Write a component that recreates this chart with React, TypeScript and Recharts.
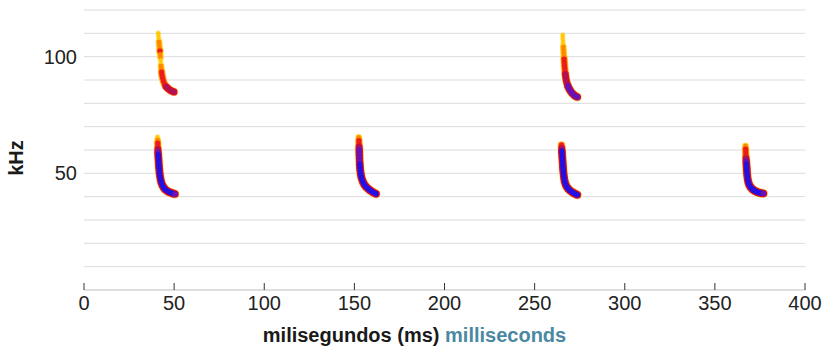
import { CartesianGrid, Label, Scatter, ScatterChart, XAxis, YAxis } from "recharts";

// one echolocation call = a trace of [ms, kHz, amplitude level 0..5]
type Pt = { t: number; f: number; amp: number };
const pts = (rows: number[][]): Pt[] => rows.map(([t, f, amp]) => ({ t, f, amp }));

const call1Harmonic = pts([
  [41.22, 110.1, 0], [41.33, 108.9, 0], [41.5, 107.6, 0], [41.61, 106.3, 1], [41.78, 105.0, 1],
  [41.94, 103.7, 1], [42.11, 102.4, 2], [42.27, 101.1, 1], [42.39, 99.9, 1], [42.5, 98.6, 0],
  [42.61, 97.3, 0], [42.72, 96.0, 1], [42.89, 94.7, 1], [43.05, 93.4, 2], [43.27, 92.1, 2],
  [43.61, 90.9, 2], [44.05, 89.6, 2], [44.66, 88.3, 2], [45.49, 87.2, 3], [46.6, 86.4, 3],
  [47.71, 85.7, 3], [48.82, 85.2, 3], [49.93, 84.9, 3],
]);

const call1 = pts([
  [40.78, 65.57, 0], [40.83, 64.29, 1], [40.89, 63.0, 2], [40.94, 61.71, 2], [41.0, 60.43, 3],
  [41.05, 59.14, 4], [41.17, 57.86, 5], [41.28, 56.57, 5], [41.39, 55.29, 5], [41.5, 54.0, 5],
  [41.61, 52.71, 5], [41.78, 51.43, 5], [41.94, 50.14, 5], [42.16, 48.86, 5], [42.44, 47.57, 5],
  [42.83, 46.29, 5], [43.38, 45.09, 5], [44.11, 44.06, 5], [44.94, 43.2, 5], [46.05, 42.51, 5],
  [47.16, 42.0, 5], [48.27, 41.66, 5], [49.38, 41.36, 5], [50.49, 41.14, 4],
]);

const call2 = pts([
  [152.46, 65.36, 1], [152.51, 64.07, 2], [152.57, 62.79, 2], [152.62, 61.5, 3], [152.68, 60.21, 4],
  [152.73, 58.93, 4], [152.79, 57.64, 4], [152.84, 56.36, 4], [152.9, 55.07, 4], [153.01, 53.79, 5],
  [153.12, 52.5, 5], [153.29, 51.21, 5], [153.51, 49.93, 5], [153.79, 48.64, 5], [154.23, 47.44, 5],
  [154.79, 46.29, 5], [155.51, 45.21, 5], [156.45, 44.27, 5], [157.56, 43.46, 5], [158.67, 42.77, 5],
  [159.78, 42.17, 5], [160.89, 41.66, 5], [162.0, 41.23, 5],
]);

const call3Harmonic = pts([
  [265.58, 109.29, 0], [265.63, 108.0, 0], [265.74, 106.71, 0], [265.8, 105.43, 0], [265.91, 104.14, 1],
  [266.02, 102.86, 1], [266.13, 101.57, 1], [266.24, 100.29, 1], [266.35, 99.0, 2], [266.46, 97.71, 2],
  [266.57, 96.43, 2], [266.69, 95.14, 2], [266.85, 93.86, 2], [267.02, 92.57, 3], [267.24, 91.29, 3],
  [267.52, 90.0, 3], [267.91, 88.71, 3], [268.41, 87.51, 4], [269.07, 86.4, 4], [269.85, 85.37, 4],
  [270.74, 84.43, 4], [271.73, 83.66, 4], [272.73, 83.06, 4], [273.68, 82.71, 4],
]);

const call3 = pts([
  [264.91, 62.14, 2], [265.02, 60.86, 3], [265.13, 59.57, 5], [265.24, 58.29, 5], [265.35, 57.0, 5],
  [265.46, 55.71, 5], [265.58, 54.43, 5], [265.69, 53.14, 5], [265.8, 51.86, 5], [265.96, 50.57, 5],
  [266.13, 49.29, 5], [266.35, 48.0, 5], [266.63, 46.71, 5], [267.07, 45.51, 5], [267.68, 44.44, 5],
  [268.52, 43.5, 5], [269.51, 42.73, 5], [270.57, 42.09, 5], [271.62, 41.57, 5], [272.68, 41.14, 5],
  [273.68, 40.8, 5],
]);

const call4 = pts([
  [366.99, 61.71, 1], [367.05, 60.43, 2], [367.1, 59.14, 2], [367.16, 57.86, 2], [367.27, 56.57, 3],
  [367.38, 55.29, 4], [367.49, 54.0, 5], [367.6, 52.71, 5], [367.71, 51.43, 5], [367.82, 50.14, 5],
  [367.99, 48.86, 5], [368.21, 47.57, 5], [368.54, 46.29, 5], [369.04, 45.13, 5], [369.76, 44.14, 5],
  [370.71, 43.33, 5], [371.76, 42.69, 5], [372.82, 42.21, 5], [373.93, 41.87, 5], [375.03, 41.61, 5],
  [376.14, 41.44, 5], [376.98, 41.36, 4],
]);

const xTicks = [0, 50, 100, 150, 200, 250, 300, 350, 400];
const yTicks = [0, 10, 20, 30, 40, 50, 60, 70, 80, 90, 100, 110, 120];
const yLabelled = [50, 100];

const allPoints = [...call1Harmonic, ...call1, ...call2, ...call3Harmonic, ...call3, ...call4];

const font = "'Liberation Sans', Arial, Helvetica, sans-serif";
const coreColor = ["#ffc800", "#ff8400", "#ec1c1c", "#b3124f", "#6a12b5", "#2410e0"];
const coreR = [1.9, 2.2, 2.5, 2.7, 2.8, 2.8];
const midColor = ["", "#ffc400", "#ff7a00", "#e8141e", "#d8101e", "#e0101e"];
const midR = [0, 3.0, 3.3, 3.6, 3.8, 3.9];
const outerR = [2.8, 3.6, 4.1, 4.4, 4.6, 4.7];

const outerDot = (p: any) => (
  <circle cx={p.cx} cy={p.cy} r={outerR[p.payload.amp]} fill="#ffcf3a" fillOpacity={0.5} />
);
const midDot = (p: any) =>
  p.payload.amp === 0 ? <g /> : <circle cx={p.cx} cy={p.cy} r={midR[p.payload.amp]} fill={midColor[p.payload.amp]} />;
const coreDot = (p: any) => (
  <circle cx={p.cx} cy={p.cy} r={coreR[p.payload.amp]} fill={coreColor[p.payload.amp]} />
);

const XTick = ({ x, y, payload }: any) => (
  <g>
    <line x1={x} x2={x} y1={y - 7} y2={y} stroke="#333" />
    <text x={x} y={y + 20} textAnchor="middle" fontSize={20} fill="#222" fontFamily={font}>
      {payload.value}
    </text>
  </g>
);

export default function App() {
  return (
    <div style={{ position: "absolute", left: 0, top: 0 }}>
      <ScatterChart width={823} height={347} margin={{ top: 10, right: 18, bottom: 0, left: 0 }}>
        <CartesianGrid vertical={false} stroke="#dcdcdc" />
        <XAxis
          type="number"
          dataKey="t"
          domain={[0, 400]}
          ticks={xTicks}
          height={57}
          tickSize={0}
          tickMargin={0}
          tickLine={false}
          axisLine={{ stroke: "#cfcfcf" }}
          tick={<XTick />}
        >
          <Label
            content={({ viewBox }: any) => (
              <text
                x={viewBox.x + viewBox.width / 2 - 30}
                y={viewBox.y + 52}
                textAnchor="middle"
                fontSize={20}
                fontWeight="bold"
                fontFamily={font}
              >
                <tspan fill="#1a1a1a">milisegundos (ms) </tspan>
                <tspan fill="#4b88a2">milliseconds</tspan>
              </text>
            )}
          />
        </XAxis>
        <YAxis
          type="number"
          dataKey="f"
          domain={[0, 120]}
          ticks={yTicks}
          width={84}
          axisLine={false}
          tickLine={false}
          tickSize={6}
          tickMargin={1}
          tickFormatter={(v: number) => (yLabelled.includes(v) ? String(v) : "")}
          tick={{ fontSize: 20, fill: "#222", fontFamily: font }}
        >
          <Label
            content={({ viewBox }: any) => (
              <text
                x={23}
                y={viewBox.y + viewBox.height / 2 + 8}
                transform={`rotate(-90 23 ${viewBox.y + viewBox.height / 2 + 8})`}
                textAnchor="middle"
                fontSize={20}
                fontWeight="bold"
                fill="#1a1a1a"
                fontFamily={font}
              >
                kHz
              </text>
            )}
          />
        </YAxis>
        <Scatter data={allPoints} shape={outerDot} isAnimationActive={false} />
        <Scatter data={allPoints} shape={midDot} isAnimationActive={false} />
        <Scatter data={allPoints} shape={coreDot} isAnimationActive={false} />
      </ScatterChart>
    </div>
  );
}
